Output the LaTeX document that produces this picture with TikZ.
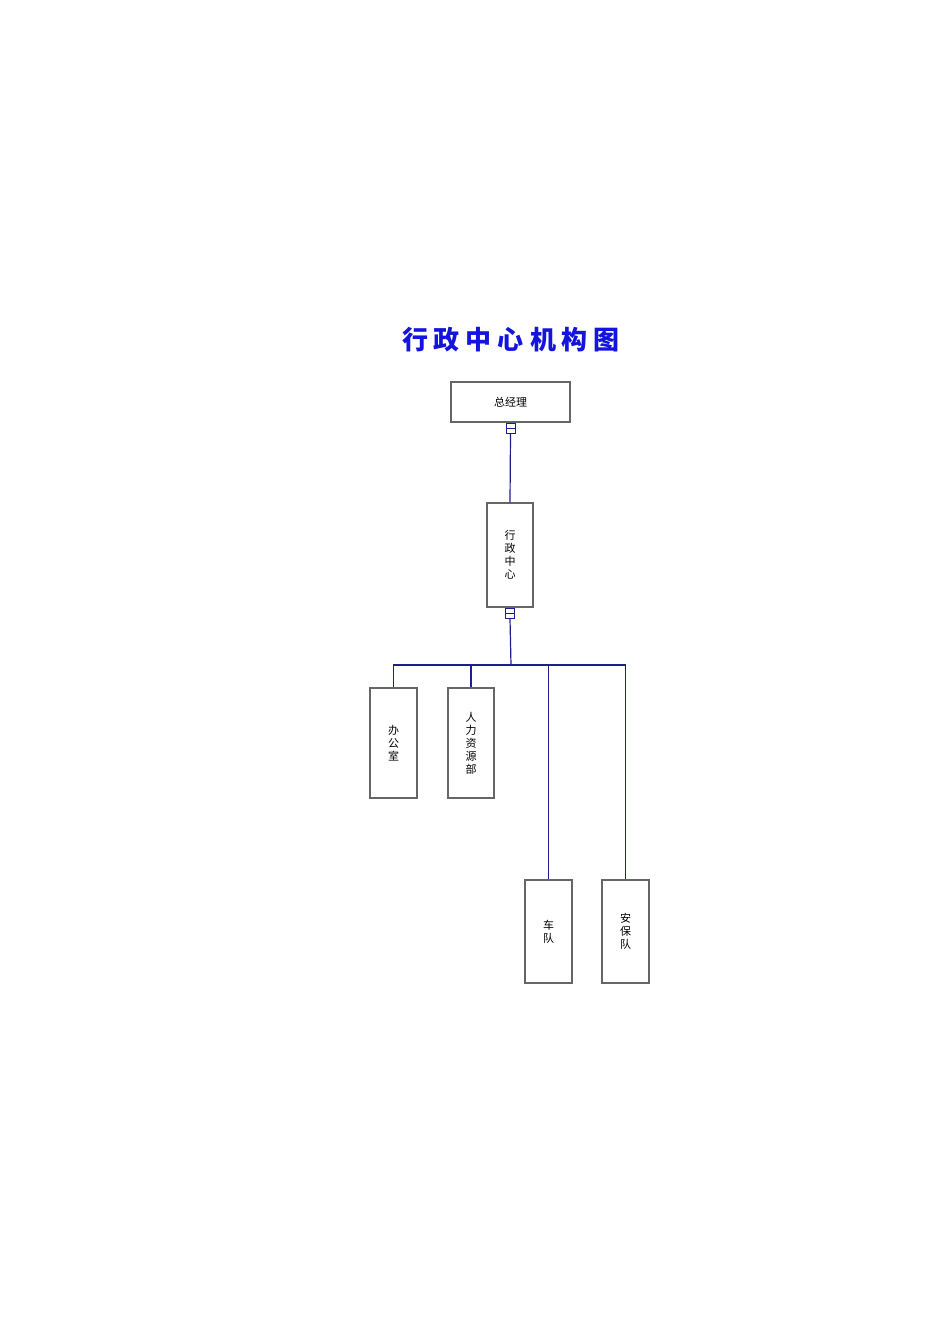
\documentclass[tikz,border=0pt]{standalone}
\usepackage{fontspec}
\newfontfamily\cjk{Noto Sans CJK SC}
\begin{document}
\begin{tikzpicture}[x=1pt,y=-1pt,
  box/.style={draw=black!60,line width=1.2pt,fill=white,inner sep=0pt,font=\cjk\fontsize{11}{13}\selectfont},
  conn/.style={draw={rgb,255:red,30;green,30;blue,140},line width=1.2pt},
  connmark/.style={draw={rgb,255:red,30;green,30;blue,140},line width=1pt,fill=white,minimum width=9pt,minimum height=10pt,inner sep=0pt}]
\useasboundingbox (0,0) rectangle (950,1344);
\node[text={rgb,255:red,20;green,20;blue,220},font=\cjk\bfseries\fontsize{26}{28}\selectfont] (title) at (511,340) {行\hspace{6pt}政\hspace{6pt}中\hspace{6pt}心\hspace{6pt}机\hspace{6pt}构\hspace{6pt}图};
\node[box,minimum width=119pt,minimum height=40pt] (gm) at (510.5,402) {总经理};
\node[box,minimum width=46pt,minimum height=104pt,align=center] (xz) at (510,555) {行\\政\\中\\心};
\node[box,minimum width=47pt,minimum height=110pt,align=center] (bg) at (393.5,743) {办\\公\\室};
\node[box,minimum width=46pt,minimum height=110pt,align=center] (rl) at (471,743) {人\\力\\资\\源\\部};
\node[box,minimum width=47pt,minimum height=103pt,align=center] (cd) at (548.5,931.5) {车\\队};
\node[box,minimum width=47pt,minimum height=103pt,align=center] (ab) at (625.5,931.5) {安\\保\\队};
\node[connmark,anchor=north] (m1) at (gm.south) {};
\node[connmark,anchor=north] (m2) at (xz.south) {};
\draw[conn] (m1.west) -- (m1.east);
\draw[conn] (m2.west) -- (m2.east);
\coordinate (bus) at (511,665);
\draw[conn] (m1.south) -- (xz.north);
\draw[conn] (m2.south) -- (bus);
\draw[conn] (bg.north) |- (bus);
\draw[conn] (rl.north) -- (rl.north |- bus);
\draw[conn] (cd.north) -- (cd.north |- bus);
\draw[conn] (ab.north) |- (bus);
\end{tikzpicture}
\end{document}
